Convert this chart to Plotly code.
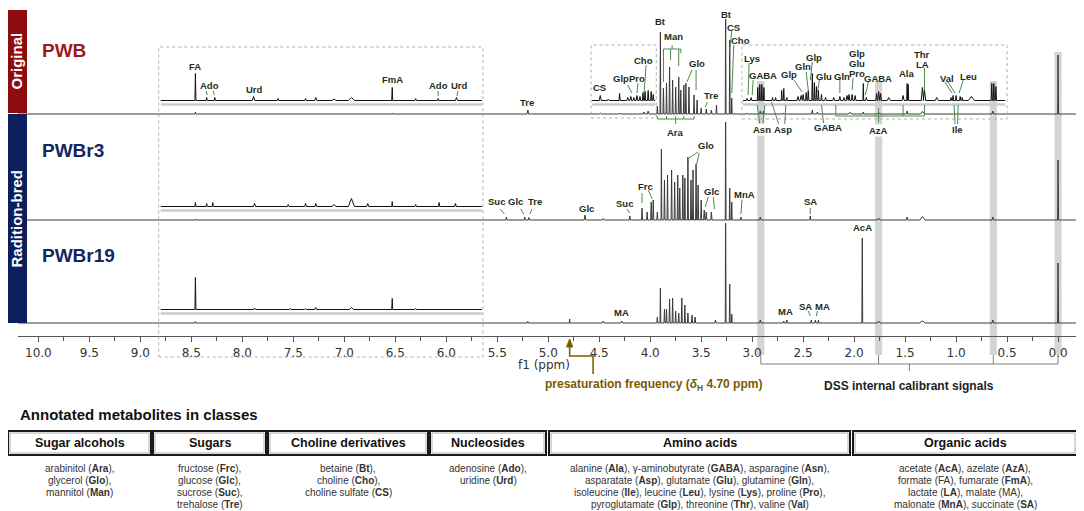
import plotly.graph_objects as go

# ---------------------------------------------------------------------------
# Data
# peaks: (chemical shift in ppm, peak height in a.u., half width in ppm)
# ---------------------------------------------------------------------------
samples = ["PWB", "PWBr3", "PWBr19"]

pwb_main = [
    (8.46, 2, .005), (6.53, 1, .005), (5.20, 4, .008),
    (4.49, 1, .01), (4.30, 1, .008), (4.06, 2, .008), (4.02, 3, .008),
    (3.93, 8, .005), (3.90, 82, .004), (3.87, 26, .005), (3.84, 31, .005),
    (3.81, 47, .005), (3.78, 34, .005), (3.75, 27, .005), (3.72, 37, .005),
    (3.70, 24, .005), (3.67, 29, .005), (3.65, 31, .005), (3.62, 27, .005),
    (3.57, 19, .005), (3.54, 14, .005), (3.50, 6, .006), (3.45, 5, .006),
    (3.40, 4, .006), (3.35, 9, .005), (3.26, 95, .004), (3.22, 74, .004),
    (3.20, 16, .004), (3.05, 1, .006), (2.92, 3, .006), (2.89, 3, .006),
    (2.69, 1, .006), (2.41, 4, .006), (2.36, 2, .006), (2.04, 1.5, .02),
    (1.91, 2, .005), (1.76, 1.5, .012), (1.48, 3, .006), (1.33, 2.5, .02),
    (0.64, 3, .008), (0.00, 59, .004),
]
pwb_inset_low = [
    (8.46, 27, .005), (8.35, 3, .006), (8.27, 3, .006), (7.89, 4, .012),
    (7.65, 2, .008), (7.38, 2, .008), (7.28, 3, .01), (7.10, 1.5, .02),
    (6.93, 3, .03), (6.53, 13, .005), (6.30, 2, .008), (6.08, 2, .006),
    (5.90, 3, .01),
]
pwb_inset_mid = [
    (4.49, 5, .01), (4.41, 1.5, .01), (4.30, 7, .006), (4.22, 3, .01),
    (4.19, 4, .008), (4.16, 3, .008), (4.13, 5, .008), (4.10, 4, .008),
    (4.07, 8, .006), (4.05, 9, .006), (4.02, 10, .006), (3.99, 9, .006),
    (3.97, 6, .006),
]
pwb_inset_high = [
    (3.05, 2, .008), (3.01, 3, .008), (2.945, 13, .005), (2.925, 16, .005),
    (2.905, 16, .005), (2.885, 13, .005), (2.80, 3, .006), (2.77, 3, .006),
    (2.71, 10, .005), (2.69, 12, .005), (2.66, 3, .006), (2.55, 4, .01),
    (2.52, 5, .01), (2.50, 6, .008), (2.47, 8, .006), (2.45, 10, .006),
    (2.41, 27, .005), (2.39, 18, .005), (2.37, 14, .005), (2.35, 10, .005),
    (2.32, 6, .006), (2.28, 3, .008), (2.20, 3, .01), (2.14, 4, .008),
    (2.10, 3, .008), (2.07, 5, .008), (2.05, 6, .008), (2.02, 6, .008),
    (1.99, 5, .008), (1.91, 17, .004), (1.88, 3, .008), (1.78, 7, .008),
    (1.76, 9, .008), (1.74, 7, .008), (1.66, 3, .015), (1.52, 5, .01),
    (1.48, 17, .005), (1.47, 16, .005), (1.33, 13, .012), (1.31, 10, .012),
    (1.19, 3, .015), (1.05, 3, .006), (1.03, 5, .006), (1.00, 5, .006),
    (0.96, 4, .006), (0.94, 3, .006), (0.85, 4, .03), (0.65, 17, .006),
    (0.63, 17, .006), (0.61, 14, .006),
]

pwbr3_main = [
    (8.46, 1, .005), (5.41, 3, .006), (5.23, 3, .006), (5.19, 2.5, .006),
    (4.64, 5, .008), (4.46, 1.5, .01), (4.20, 4, .006), (4.08, 12, .005),
    (4.03, 8, .005), (3.99, 18, .005), (3.97, 20, .005), (3.93, 8, .005),
    (3.89, 71, .004), (3.86, 40, .005), (3.83, 45, .005), (3.79, 50, .005),
    (3.76, 38, .005), (3.73, 45, .005), (3.71, 32, .005), (3.68, 45, .005),
    (3.66, 42, .005), (3.63, 63, .005), (3.60, 40, .005), (3.58, 50, .005),
    (3.55, 56, .005), (3.53, 35, .005), (3.50, 20, .005), (3.47, 10, .006),
    (3.45, 8, .006), (3.40, 8, .006), (3.26, 98, .004), (3.22, 32, .004),
    (3.20, 18, .004), (3.11, 3, .006), (2.92, 3, .008), (2.43, 4, .005),
    (1.76, 2, .012), (1.48, 3, .006), (1.33, 3.5, .025), (0.64, 3, .008),
    (0.00, 60, .004),
]
pwbr3_inset_low = [
    (8.46, 4, .005), (8.35, 3, .006), (8.29, 4, .006), (7.88, 3, .01),
    (7.55, 2, .008), (7.38, 3, .008), (7.28, 3, .008), (7.10, 2, .02),
    (6.93, 8, .03), (6.77, 3, .01), (6.53, 5, .005), (6.30, 2, .008),
    (6.07, 4, .006), (5.91, 3, .008),
]

pwbr19_main = [
    (8.46, 1.5, .005), (5.20, 1.5, .006), (4.79, 4, .003), (4.46, 2, .01),
    (4.28, 2, .01), (3.93, 6, .005), (3.90, 35, .004), (3.86, 14, .005),
    (3.84, 14, .005), (3.81, 24, .005), (3.78, 25, .005), (3.75, 12, .005),
    (3.72, 10, .005), (3.69, 25, .005), (3.66, 18, .005), (3.63, 10, .005),
    (3.59, 8, .006), (3.56, 6, .006), (3.36, 3, .006), (3.26, 100, .004),
    (3.22, 39, .004), (3.20, 9, .004), (2.92, 3, .008), (2.69, 2, .005),
    (2.66, 3, .005), (2.42, 3, .005), (2.38, 3, .005), (2.35, 3, .005),
    (1.92, 85, .004), (1.76, 2, .015), (1.33, 2, .03), (0.64, 3, .008),
    (0.00, 60, .004),
]
pwbr19_inset_low = [
    (8.46, 32, .005), (7.88, 1.5, .01), (7.53, 1, .008), (7.38, 1, .008),
    (7.28, 2, .01), (6.93, 2, .02), (6.53, 11, .005), (6.30, 1, .008),
]

dss_ppm = [2.915, 1.76, 0.635, 0.0]
presat_ppm = 4.79

# metabolite labels: (text, ppm, page y)
pwb_labels = [
    ("FA", 8.46, 66), ("Ado", 8.32, 85), ("Urd", 7.88, 89), ("FmA", 6.53, 79),
    ("Ado", 6.08, 85), ("Urd", 5.87, 85), ("Tre", 5.21, 102),
    ("CS", 4.50, 87), ("Glp", 4.29, 78), ("Pro", 4.13, 78), ("Cho", 4.07, 60),
    ("Bt", 3.90, 21), ("Man", 3.77, 36), ("Glo", 3.54, 63), ("Tre", 3.40, 95),
    ("Bt", 3.25, 14), ("CS", 3.18, 27), ("Cho", 3.11, 40),
    ("Lys", 3.00, 58), ("GABA", 2.89, 75), ("Glp", 2.64, 74), ("Gln", 2.50, 66),
    ("Glp", 2.39, 57), ("Glu", 2.30, 76), ("Gln", 2.12, 76), ("Glp", 1.97, 53),
    ("Glu", 1.97, 63), ("Pro", 1.97, 73), ("GABA", 1.77, 78), ("Ala", 1.48, 73),
    ("Thr", 1.33, 54), ("LA", 1.33, 64), ("Val", 1.09, 78), ("Leu", 0.88, 76),
    ("Ara", 3.75, 132), ("Asn", 2.90, 129), ("Asp", 2.70, 129),
    ("GABA", 2.26, 127), ("AzA", 1.76, 130), ("Ile", 0.99, 129),
]
pwbr3_labels = [
    ("Suc", 5.51, 201), ("Glc", 5.32, 201), ("Tre", 5.13, 201),
    ("Glc", 4.62, 208), ("Suc", 4.25, 203), ("Frc", 4.05, 186),
    ("Glo", 3.45, 145), ("Glc", 3.40, 191), ("MnA", 3.08, 194), ("SA", 2.43, 201),
]
pwbr19_labels = [
    ("MA", 4.28, 312), ("MA", 2.67, 311), ("SA", 2.48, 306), ("MA", 2.31, 306),
    ("AcA", 1.92, 227),
]
boxed_labels = {"Asn", "AzA"}

# leader lines: (ppm0, page y0, ppm1, page y1)
leaders = [
    (8.355, 91, 8.345, 95), (8.285, 91, 8.275, 95), (6.08, 91, 6.08, 96),
    (5.885, 91, 5.895, 96), (4.22, 85, 4.18, 93), (4.12, 83, 4.13, 93),
    (4.04, 65, 4.06, 92), (3.59, 70, 3.64, 82), (3.55, 70, 3.55, 90),
    (3.44, 102, 3.46, 107), (3.20, 31, 3.22, 50), (3.18, 45, 3.20, 93),
    (3.03, 63, 3.04, 95), (2.99, 80, 3.00, 95), (2.59, 80, 2.51, 92),
    (2.47, 72, 2.45, 90), (2.41, 62, 2.43, 80), (2.34, 80, 2.36, 92),
    (2.14, 79, 2.14, 93), (2.01, 78, 2.02, 90), (1.86, 82, 1.89, 95),
    (1.31, 68, 1.31, 90), (1.11, 82, 1.04, 93), (1.08, 82, 1.01, 93),
    (0.93, 80, 0.97, 93),
    (2.95, 105, 2.925, 124), (2.875, 105, 2.895, 124), (2.81, 102, 2.74, 124),
    (2.67, 105, 2.68, 124), (2.32, 105, 2.30, 123), (1.02, 105, 1.01, 124),
    (0.98, 105, 0.985, 124), (1.76, 108, 1.76, 116),
    (3.87, 49, 3.87, 82), (3.80, 49, 3.80, 60), (3.72, 49, 3.72, 66),
    (5.47, 209, 5.43, 214), (5.27, 209, 5.24, 214), (5.16, 209, 5.18, 214),
    (4.23, 209, 4.20, 213), (4.08, 193, 4.08, 203), (4.02, 190, 3.98, 199),
    (3.53, 152, 3.62, 158), (3.52, 153, 3.55, 167), (3.43, 197, 3.46, 207),
    (3.38, 197, 3.37, 209), (3.10, 200, 3.11, 214), (2.43, 208, 2.43, 214),
    (2.45, 311, 2.43, 316), (2.36, 311, 2.37, 316),
]
# brackets: (end/drop ppms, line y, tip y, centre ppm, centre y)
brackets = [
    ([3.87, 3.70], 49, 53, 3.785, 45),
    ([3.93, 3.84, 3.75, 3.67, 3.57], 119, 116, 3.75, 124),
    ([2.18, 1.52, 1.31], 116, 105, 1.76, 122),
]

classes = ["Sugar alcohols", "Sugars", "Choline derivatives", "Nucleosides",
           "Amino acids", "Organic acids"]
class_members = [
    ["arabinitol (<b>Ara</b>),", "glycerol (<b>Glo</b>),", "mannitol (<b>Man</b>)"],
    ["fructose (<b>Frc</b>),", "glucose (<b>Glc</b>),", "sucrose (<b>Suc</b>),",
     "trehalose (<b>Tre</b>)"],
    ["betaine (<b>Bt</b>),", "choline (<b>Cho</b>),", "choline sulfate (<b>CS</b>)"],
    ["adenosine (<b>Ado</b>),", "uridine (<b>Urd</b>)"],
    ["alanine (<b>Ala</b>), γ-aminobutyrate (<b>GABA</b>), asparagine (<b>Asn</b>),",
     "asparatate (<b>Asp</b>), glutamate (<b>Glu</b>), glutamine (<b>Gln</b>),",
     "isoleucine (<b>Ile</b>), leucine (<b>Leu</b>), lysine (<b>Lys</b>), proline (<b>Pro</b>),",
     "pyroglutamate (<b>Glp</b>), threonine (<b>Thr</b>), valine (<b>Val</b>)"],
    ["acetate (<b>AcA</b>), azelate (<b>AzA</b>),", "formate (FA), fumarate (<b>FmA</b>),",
     "lactate (<b>LA</b>), malate (MA),", "malonate (<b>MnA</b>), succinate (<b>SA</b>)"],
]

# ---------------------------------------------------------------------------
# Layout helpers (page pixels -> axis / paper units)
# the page body keeps an 8 px margin, so the figure is 8 px smaller
# ---------------------------------------------------------------------------
OFF = 8
PAGE_W, PAGE_H = 1084, 511
W, H = PAGE_W - OFF, PAGE_H - OFF
PL, PR, PB = 18, 1081, 336            # plot edges in page pixels
FONT = "Arial, Liberation Sans, sans-serif"
AXFONT = "DejaVu Sans, Verdana, sans-serif"
LABEL_C = "#1c2e1c"
LEADER_C = "#4b8a4b"


def yv(px):
    return PB - px


def yp(px):
    return (PB - px) / (PB - OFF)


def xp(px):
    return (px - PL) / (PR - PL)


def spectrum(peaks, lo, hi, base):
    xs, ys = [hi], [base]
    for ppm, h, w in sorted(peaks, key=lambda p: -p[0]):
        xs += [ppm + w, ppm, ppm - w]
        ys += [base, base + h, base]
    xs.append(lo)
    ys.append(base)
    return xs, ys


def text(x, y, s, size, color, xref="paper", yref="paper", **kw):
    d = dict(x=x, y=y, xref=xref, yref=yref, text=s, showarrow=False,
             xanchor="center", yanchor="middle",
             font=dict(family=FONT, size=size, color=color))
    d.update(kw)
    return d


base_px = {"PWB": 114, "PWBr3": 220, "PWBr19": 323}
spectra = [
    ("PWB", pwb_main, None), ("PWBr3", pwbr3_main, None), ("PWBr19", pwbr19_main, None),
    ("PWB", pwb_inset_low, (5.65, 8.80)), ("PWB", pwb_inset_mid, (3.95, 4.57)),
    ("PWB", pwb_inset_high, (0.52, 3.09)), ("PWBr3", pwbr3_inset_low, (5.65, 8.80)),
    ("PWBr19", pwbr19_inset_low, (5.65, 8.80)),
]

fig = go.Figure()
shapes, annos = [], []

for name, peaks, inset in spectra:
    if inset is None:
        xs, ys = spectrum(peaks, -0.225, 10.2, yv(base_px[name]))
        color = "#3a3a3a"
    else:
        lo, hi = inset
        xs, ys = spectrum(peaks, lo, hi, yv(base_px[name] - 13.5))
        color = "#111111"
        shapes.append(dict(type="line", xref="x", yref="y", x0=hi, x1=lo,
                           y0=yv(base_px[name] - 9.5), y1=yv(base_px[name] - 9.5),
                           line=dict(color="#cccccc", width=2.5), layer="below"))
    fig.add_trace(go.Scatter(x=xs, y=ys, mode="lines", hoverinfo="skip",
                             line=dict(color=color, width=1), showlegend=False))

# DSS grey bands
for ppm in dss_ppm:
    top = 52 if ppm == 0.0 else 81
    shapes.append(dict(type="rect", xref="x", yref="paper", x0=ppm + 0.035, x1=ppm - 0.035,
                       y0=yp(355), y1=yp(top), fillcolor="#d4d4d4",
                       line=dict(width=0), layer="below"))

# dotted inset frames
for hi, lo, t, b in [(8.82, 5.64, 47, 357), (4.58, 3.94, 45, 118), (3.10, 0.50, 45, 119)]:
    shapes.append(dict(type="rect", xref="x", yref="paper", x0=hi, x1=lo, y0=yp(b), y1=yp(t),
                       line=dict(color="#b0b0b0", width=1, dash="dot")))

# leaders and brackets
for a0, b0, a1, b1 in leaders:
    shapes.append(dict(type="line", xref="x", yref="y", x0=a0, y0=yv(b0), x1=a1, y1=yv(b1),
                       line=dict(color=LEADER_C, width=1)))
for drops, ly, ty, cx, cy in brackets:
    shapes.append(dict(type="line", xref="x", yref="y", x0=max(drops), x1=min(drops),
                       y0=yv(ly), y1=yv(ly), line=dict(color=LEADER_C, width=1)))
    for d in drops:
        shapes.append(dict(type="line", xref="x", yref="y", x0=d, x1=d, y0=yv(ly), y1=yv(ty),
                           line=dict(color=LEADER_C, width=1)))
    shapes.append(dict(type="line", xref="x", yref="y", x0=cx, x1=cx, y0=yv(ly), y1=yv(cy),
                       line=dict(color=LEADER_C, width=1)))

# DSS bracket below the axis
GREY = "#808080"
shapes.append(dict(type="line", xref="x", yref="paper", x0=max(dss_ppm), x1=min(dss_ppm),
                   y0=yp(364), y1=yp(364), line=dict(color=GREY, width=1)))
for d in dss_ppm:
    shapes.append(dict(type="line", xref="x", yref="paper", x0=d, x1=d, y0=yp(364), y1=yp(355),
                       line=dict(color=GREY, width=1)))
mid = (max(dss_ppm) + min(dss_ppm)) / 2
shapes.append(dict(type="line", xref="x", yref="paper", x0=mid, x1=mid, y0=yp(364), y1=yp(371),
                   line=dict(color=GREY, width=1)))
annos.append(text(mid, yp(386), "<b>DSS internal calibrant signals</b>", 12, "#222", xref="x"))

# presaturation arrow
PRESAT_C = "#7a5a00"
knee = presat_ppm - 0.23
shapes.append(dict(type="path", xref="x", yref="paper",
                   path=f"M {presat_ppm} {yp(345)} L {presat_ppm} {yp(356)} L {knee} {yp(356)} L {knee} {yp(374)}",
                   line=dict(color=PRESAT_C, width=1.5)))
shapes.append(dict(type="path", xref="x", yref="paper",
                   path=f"M {presat_ppm} {yp(339)} L {presat_ppm + 0.03} {yp(347)} L {presat_ppm - 0.03} {yp(347)} Z",
                   fillcolor=PRESAT_C, line=dict(color=PRESAT_C, width=1)))
annos.append(text(xp(653), yp(385),
                  "<b>presaturation frequency (<i>δ</i><sub>H</sub> 4.70 ppm)</b>", 12, PRESAT_C))
annos.append(text(xp(544), yp(365), "f1 (ppm)", 12, "#333"))
annos[-1]["font"]["family"] = AXFONT

# metabolite labels
for lab_list in (pwb_labels, pwbr3_labels, pwbr19_labels):
    for s, ppm, py in lab_list:
        annos.append(text(ppm, yv(py), f"<b>{s}</b>", 9.5, LABEL_C, xref="x", yref="y",
                          borderpad=0,
                          bgcolor="white" if s in boxed_labels else "rgba(0,0,0,0)"))

# group bars on the left
for s, color, t, b in [("Original", "#8e0c0c", 10, 113), ("Radition-bred", "#0c1f5c", 114, 323)]:
    shapes.append(dict(type="rect", xref="paper", yref="paper", x0=xp(3), x1=xp(27),
                       y0=yp(b), y1=yp(t), fillcolor=color, line=dict(width=0), layer="above"))
    annos.append(text(xp(16), yp((t + b) / 2), f"<b>{s}</b>", 15, "white", textangle=-90))

for name, color, py in [("PWB", "#9e1a1a", 50), ("PWBr3", "#16265e", 150), ("PWBr19", "#16265e", 255)]:
    annos.append(text(xp(40), yp(py), f"<b>{name}</b>", 19, color, xanchor="left"))

# table of metabolite classes
annos.append(text(xp(18), yp(415), "<b>Annotated metabolites in classes</b>", 15, "#111",
                  xanchor="left"))
box_edges = [(8, 151), (153, 266), (268, 428), (430, 546), (549, 850), (853, 1077)]
for (x0, x1), head, members in zip(box_edges, classes, class_members):
    shapes.append(dict(type="rect", xref="paper", yref="paper", x0=xp(x0), x1=xp(x1),
                       y0=yp(455), y1=yp(431), line=dict(color="#1a1a1a", width=2)))
    shapes.append(dict(type="rect", xref="paper", yref="paper", x0=xp(x0 + 2), x1=xp(x1 - 2),
                       y0=yp(453), y1=yp(433), line=dict(color="#9a9a9a", width=0.8)))
    cx = xp((x0 + x1) / 2)
    annos.append(text(cx, yp(443), f"<b>{head}</b>", 12.5, "#111"))
    for i, line in enumerate(members):
        annos.append(text(cx, yp(468 + 12 * i), line, 10, "#333"))

fig.update_layout(
    width=W, height=H,
    margin=dict(l=PL - OFF, r=PAGE_W - PR, t=0, b=PAGE_H - PB),
    paper_bgcolor="white", plot_bgcolor="white",
    showlegend=False,
    shapes=shapes, annotations=annos,
    xaxis=dict(range=[10.2, -0.225], showgrid=False, zeroline=False, showline=True,
               linecolor="#555", linewidth=1.2, ticks="outside", ticklen=5,
               tickcolor="#555", dtick=0.5, tick0=0, tickformat=".1f",
               tickfont=dict(family=AXFONT, size=12, color="#333"),
               minor=dict(dtick=0.25, tick0=0, ticks="outside", ticklen=4, tickcolor="#555")),
    yaxis=dict(range=[0, PB - OFF], visible=False, fixedrange=True),
)

fig.write_html("out.html")
